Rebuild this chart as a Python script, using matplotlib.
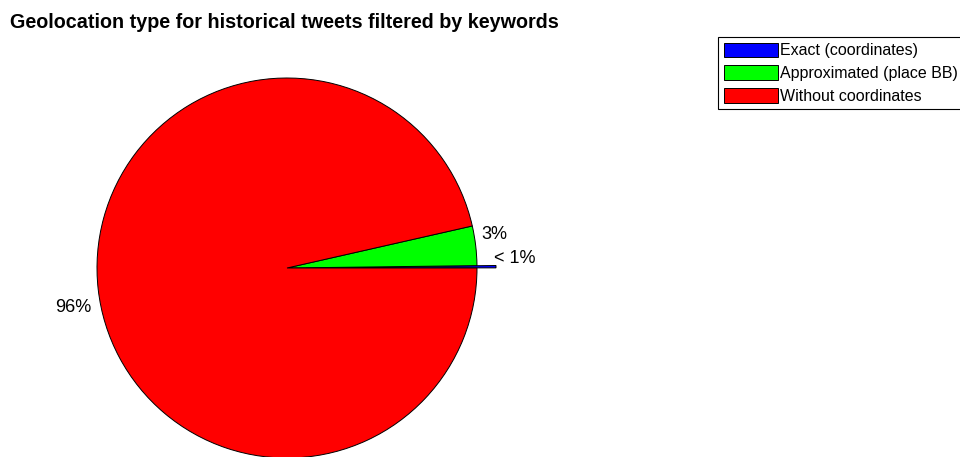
import numpy as np
import matplotlib
matplotlib.use('Agg')
import matplotlib.pyplot as plt

plt.rcParams['font.family'] = ['Liberation Sans', 'DejaVu Sans']

# share of tweets per geolocation type (%)
categories = ['Exact (coordinates)', 'Approximated (place BB)', 'Without coordinates']
shares = [0.2, 3.35, 96.45]
colors = ['#0000ff', '#00ff00', '#ff0000']
explode = [0.1, 0, 0]

def pctLabel(v):
	if v < 1:
		return '< 1%'
	return str(int(round(v))) + '%'

labels = [pctLabel(v) for v in shares]

W, H = 960, 457
fig = plt.figure(figsize=(W / 100.0, H / 100.0), dpi=100)

# pie centre and radius in pixels
cx, cy, r = 287, 268, 190
ax = fig.add_axes([0, 0, 1, 1])
wedges, texts = ax.pie(shares, labels=labels, colors=colors, explode=explode,
	startangle=0, counterclock=True, labeldistance=1.1,
	wedgeprops=dict(edgecolor='black', linewidth=0.7),
	textprops=dict(fontsize=13))

for t in texts:
	x, y = t.get_position()
	t.set_ha('center')
	t.set_va('bottom' if y >= 0 else 'top')
	if y < 0:
		# big slice label sits a little lower and further out
		t.set_position((x * 1.03, y - 0.04))

ax.set_aspect('auto')
ax.set_xlim(-cx / float(r), (W - cx) / float(r))
ax.set_ylim(-(H - cy) / float(r), cy / float(r))
ax.axis('off')

fig.text(10 / float(W), 1 - 23 / float(H), 'Geolocation type for historical tweets filtered by keywords',
	fontsize=14.2, fontweight='bold', va='center', ha='left')

leg = fig.legend(wedges, categories, loc='upper left',
	bbox_to_anchor=(718 / float(W), 1 - 37 / float(H)),
	fontsize=11.5, fancybox=False, framealpha=1, edgecolor='black',
	handlelength=3.4, handleheight=1.05, handletextpad=0.15,
	labelspacing=0.42, borderpad=0.35, borderaxespad=0)
leg.get_frame().set_linewidth(0.8)

fig.savefig('out.png', dpi=100)
